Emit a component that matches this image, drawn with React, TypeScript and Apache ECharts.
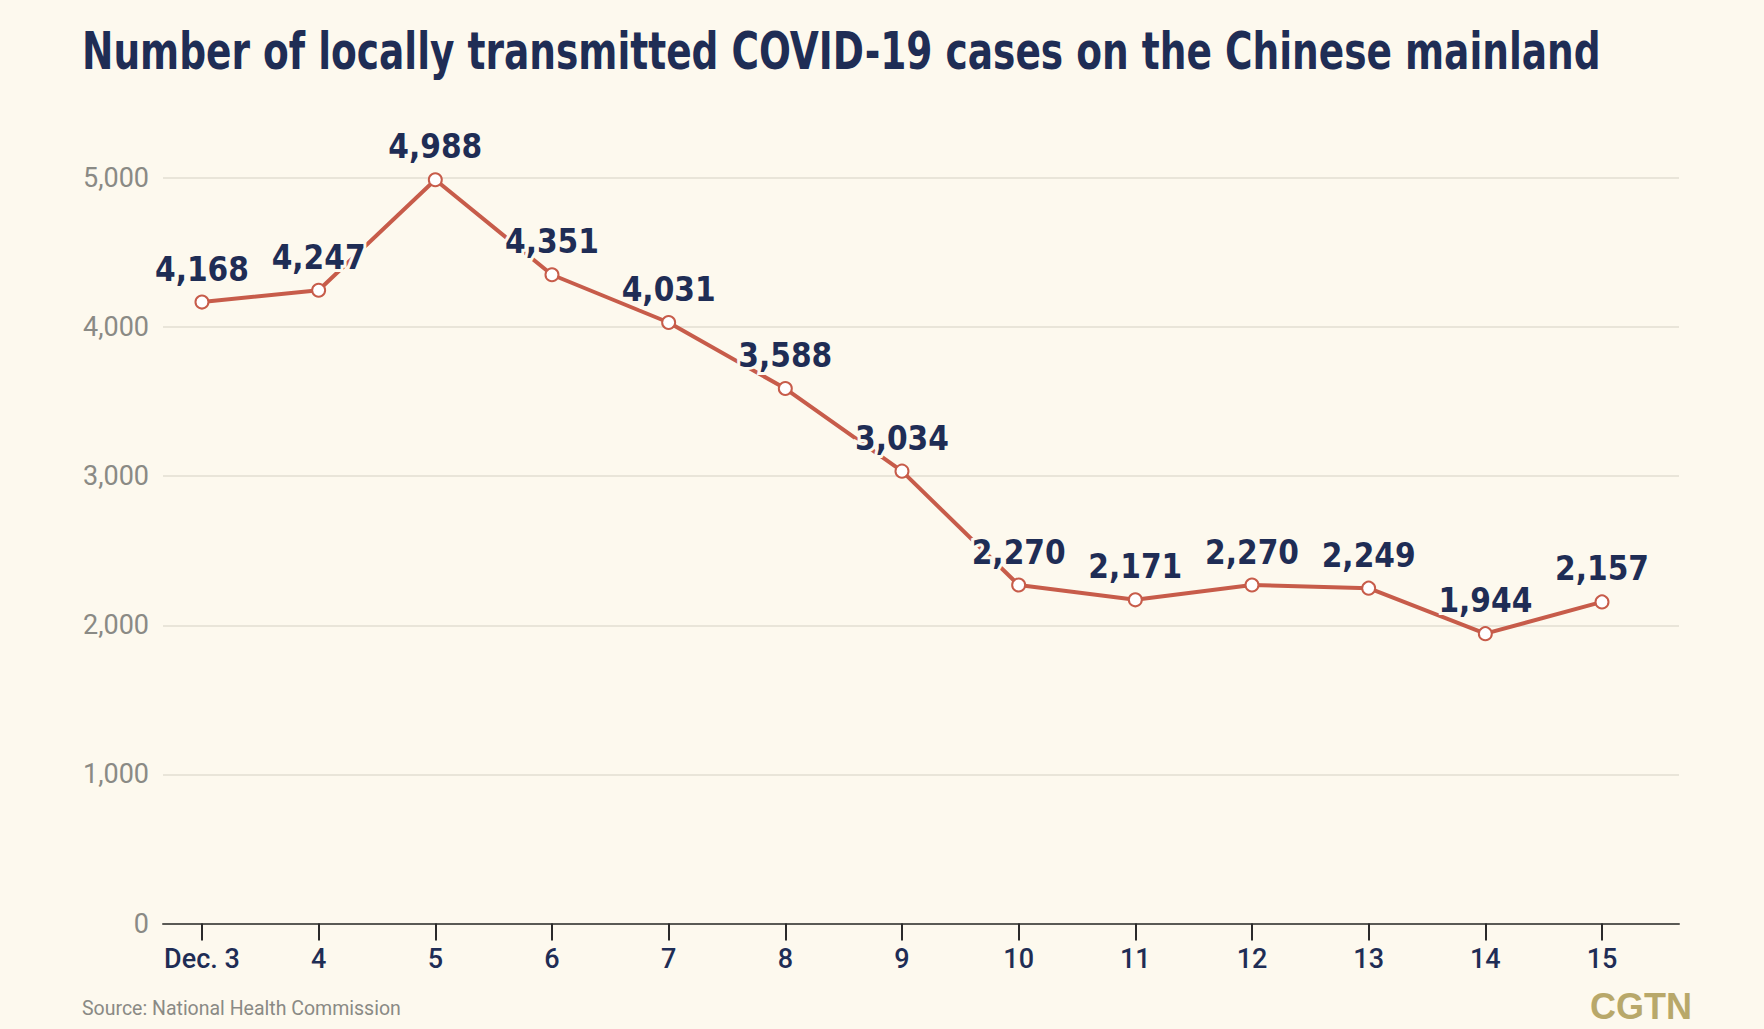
import React, { useEffect, useRef } from "react";
import * as echarts from "echarts";

const categories = ["Dec. 3", "4", "5", "6", "7", "8", "9", "10", "11", "12", "13", "14", "15"];
const cases = [4168, 4247, 4988, 4351, 4031, 3588, 3034, 2270, 2171, 2270, 2249, 1944, 2157];
const yTicks = [0, 1000, 2000, 3000, 4000, 5000];

const titleText = "Number of locally transmitted COVID-19 cases on the Chinese mainland";
const sourceText = "Source: National Health Commission";
const logoText = "CGTN";

const BG = "#fdf9ee";
const NAVY = "#1f2d55";
const RED = "#c75c4a";
const GREY = "#8a8a85";

export default function App() {
  const ref = useRef<HTMLDivElement>(null);
  useEffect(() => {
    if (!ref.current) return;
    const chart = echarts.init(ref.current, null, { renderer: "svg" });
    const xIdx = categories.map((_, i) => i);
    chart.setOption({
      animation: false,
      backgroundColor: BG,
      grid: { left: 163, right: 85, top: 178, bottom: 105.5 },
      xAxis: {
        type: "value",
        min: -0.334,
        max: 12.66,
        splitLine: { show: false },
        axisLine: { show: true, lineStyle: { color: "#5a5a55", width: 2 } },
        axisTick: {
          show: true,
          customValues: xIdx,
          length: 17,
          lineStyle: { color: "#2a2a2a", width: 2 },
        },
        axisLabel: {
          customValues: xIdx,
          margin: 22,
          formatter: (v: number) => categories[Math.round(v)] ?? "",
          fontFamily: "Roboto",
          fontWeight: 500,
          fontSize: 27,
          color: NAVY,
        },
      },
      yAxis: {
        type: "value",
        min: 0,
        max: 5000,
        interval: 1000,
        axisLine: { show: false },
        axisTick: { show: false },
        splitLine: { show: true, lineStyle: { color: "#e2ded2", width: 1.5 } },
        axisLabel: {
          margin: 14,
          fontFamily: "Roboto",
          fontSize: 27,
          color: GREY,
          formatter: (v: number) => (yTicks.includes(v) ? v.toLocaleString("en-US") : ""),
        },
      },
      series: [
        {
          type: "line",
          data: cases.map((v, i) => [i, v]),
          lineStyle: { color: RED, width: 4 },
          symbol: "circle",
          symbolSize: 13,
          itemStyle: { color: "#ffffff", borderColor: RED, borderWidth: 2 },
          label: {
            show: true,
            position: "top",
            distance: 9,
            formatter: (p: any) => (p.value[1] as number).toLocaleString("en-US"),
            fontFamily: "DejaVu Sans Condensed",
            fontWeight: "bold",
            fontSize: 33,
            color: NAVY,
            textBorderColor: BG,
            textBorderWidth: 6,
          },
          z: 3,
        },
      ],
      graphic: [
        {
          type: "text",
          x: 82,
          y: 25,
          scaleX: 0.802,
          style: {
            text: titleText,
            font: "bold 52px 'DejaVu Sans Condensed'",
            fill: NAVY,
          },
        },
        {
          type: "text",
          left: 82,
          top: 998,
          style: {
            text: sourceText,
            font: "19.5px Roboto",
            fill: GREY,
          },
        },
        {
          type: "text",
          left: 1590,
          top: 988,
          style: {
            text: logoText,
            font: "bold 36px 'Liberation Sans'",
            fill: "#b8a86a",
          },
        },
      ],
    });
    return () => chart.dispose();
  }, []);
  return (
    <div
      ref={ref}
      style={{ position: "fixed", left: 0, top: 0, width: 1764, height: 1029 }}
    />
  );
}
